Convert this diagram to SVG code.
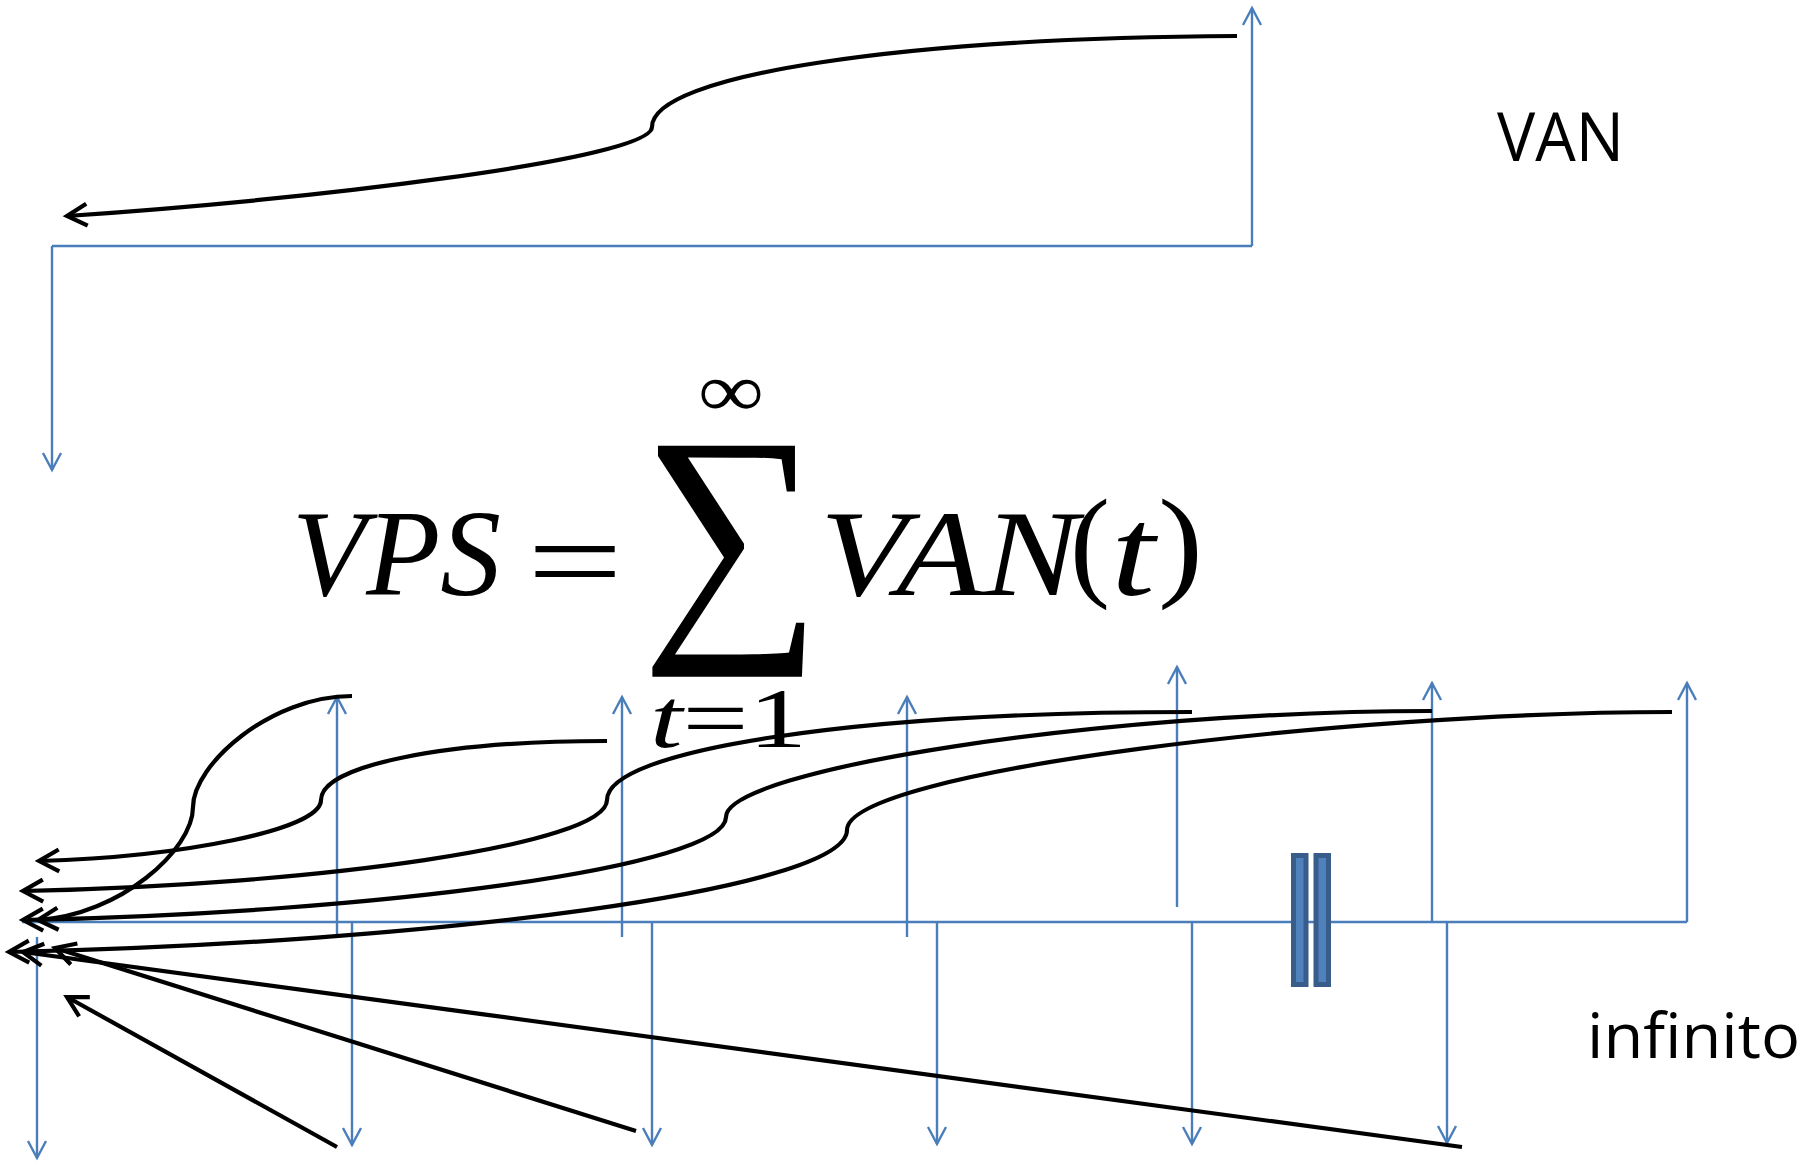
<svg xmlns="http://www.w3.org/2000/svg" width="1820" height="1167" viewBox="0 0 1820 1167">
<style>
.blue{fill:none;stroke:#4a7ebb;stroke-width:2.4;marker-end:url(#bArr)}
.blueplain{fill:none;stroke:#4a7ebb;stroke-width:2.4}
.blk{fill:none;stroke:#000;stroke-width:4.2;marker-end:url(#kArr)}
.math{font-family:"Liberation Serif","DejaVu Serif",serif;fill:#000}
.it{font-style:italic}
.lbl{font-family:"Open Sans","Liberation Sans",sans-serif;fill:#000}
.bar{fill:#4f81bd;stroke:#385d8a;stroke-width:5}
</style>
<defs>
<marker id="bArr" markerUnits="userSpaceOnUse" markerWidth="40" markerHeight="40" refX="0" refY="0" orient="auto" overflow="visible">
<path d="M-17,-9 L0,0 L-17,9" fill="none" stroke="#4a7ebb" stroke-width="2.4"/>
</marker>
<marker id="kArr" markerUnits="userSpaceOnUse" markerWidth="40" markerHeight="40" refX="0" refY="0" orient="auto" overflow="visible">
<path d="M-20,-11 L0,0 L-20,11" fill="none" stroke="#000" stroke-width="4.2"/>
</marker>
</defs>
<rect width="1820" height="1167" fill="#fff"/>

<g id="formula">
<text class="math"><tspan x="698" y="416" font-size="76" textLength="66" lengthAdjust="spacingAndGlyphs">∞</tspan><tspan x="641" y="620" font-size="266" textLength="181" lengthAdjust="spacingAndGlyphs">∑</tspan><tspan class="it" x="292" y="595" font-size="122" textLength="209" lengthAdjust="spacingAndGlyphs">VPS</tspan><tspan x="527" y="602" font-size="122" textLength="96" lengthAdjust="spacingAndGlyphs">=</tspan><tspan class="it" x="820" y="595" font-size="122" textLength="258" lengthAdjust="spacingAndGlyphs">VAN</tspan><tspan x="1070" y="584" font-size="122" textLength="40" lengthAdjust="spacingAndGlyphs">(</tspan><tspan class="it" x="1111" y="595" font-size="126" textLength="44" lengthAdjust="spacingAndGlyphs">t</tspan><tspan x="1158" y="584" font-size="122" textLength="45" lengthAdjust="spacingAndGlyphs">)</tspan><tspan x="650" y="747" font-size="84" textLength="157" lengthAdjust="spacingAndGlyphs"><tspan class="it">t</tspan>=1</tspan></text>
</g>

<g id="label-van"><text class="lbl" x="1497" y="161" font-size="67" textLength="127" lengthAdjust="spacingAndGlyphs">VAN</text></g>
<g id="label-infinito"><text class="lbl" x="1587" y="1058" font-size="63" textLength="213" lengthAdjust="spacingAndGlyphs">infinito</text></g>

<g id="connectors">
<!-- top section -->
<path class="blue" d="M1252,246 L1252,8"/>
<path class="blueplain" d="M52,246 L1252,246"/>
<path class="blue" d="M52,246 L52,470"/>
<path class="blk" d="M1237,36 C900,38 652,75 652,127 C652,160 300,200 67,216"/>

<!-- bottom section: baseline -->
<path class="blueplain" d="M22,922 L1687,922"/>
<!-- up arrows -->
<path class="blue" d="M337,937 L337,697"/>
<path class="blue" d="M622,937 L622,697"/>
<path class="blue" d="M907,937 L907,697"/>
<path class="blue" d="M1177,907 L1177,667"/>
<path class="blue" d="M1432,922 L1432,683"/>
<path class="blue" d="M1687,922 L1687,683"/>
<!-- down arrows -->
<path class="blue" d="M37,937 L37,1158"/>
<path class="blue" d="M352,922 L352,1145"/>
<path class="blue" d="M652,922 L652,1145"/>
<path class="blue" d="M937,922 L937,1144"/>
<path class="blue" d="M1192,922 L1192,1144"/>
<path class="blue" d="M1447,922 L1447,1143"/>

<!-- black curves -->
<path class="blk" d="M352,696 C270,696 193,765 193,807 C193,850 120,915 38,920"/>
<path class="blk" d="M607,741 C441,741 321,766 321,800 C321,830 180,857 39,861"/>
<path class="blk" d="M1192,712 C853,712 607,750 607,800 C607,845 315,885 23,891"/>
<path class="blk" d="M1432,711 C1100,711 726,770 726,817 C726,867 375,913 23,920"/>
<path class="blk" d="M1672,712 C1350,712 847,771 847,830 C847,890 428,943 9,952"/>
<!-- straight black arrows -->
<path class="blk" d="M337,1147 L67,997"/>
<path class="blk" d="M636,1131 L55,948"/>
<path class="blk" d="M1462,1147 L23,952"/>
</g>

<g id="break-bars">
<rect class="bar" x="1293.5" y="855.5" width="12.5" height="129"/>
<rect class="bar" x="1316" y="855.5" width="12.5" height="129"/>
</g>
</svg>
